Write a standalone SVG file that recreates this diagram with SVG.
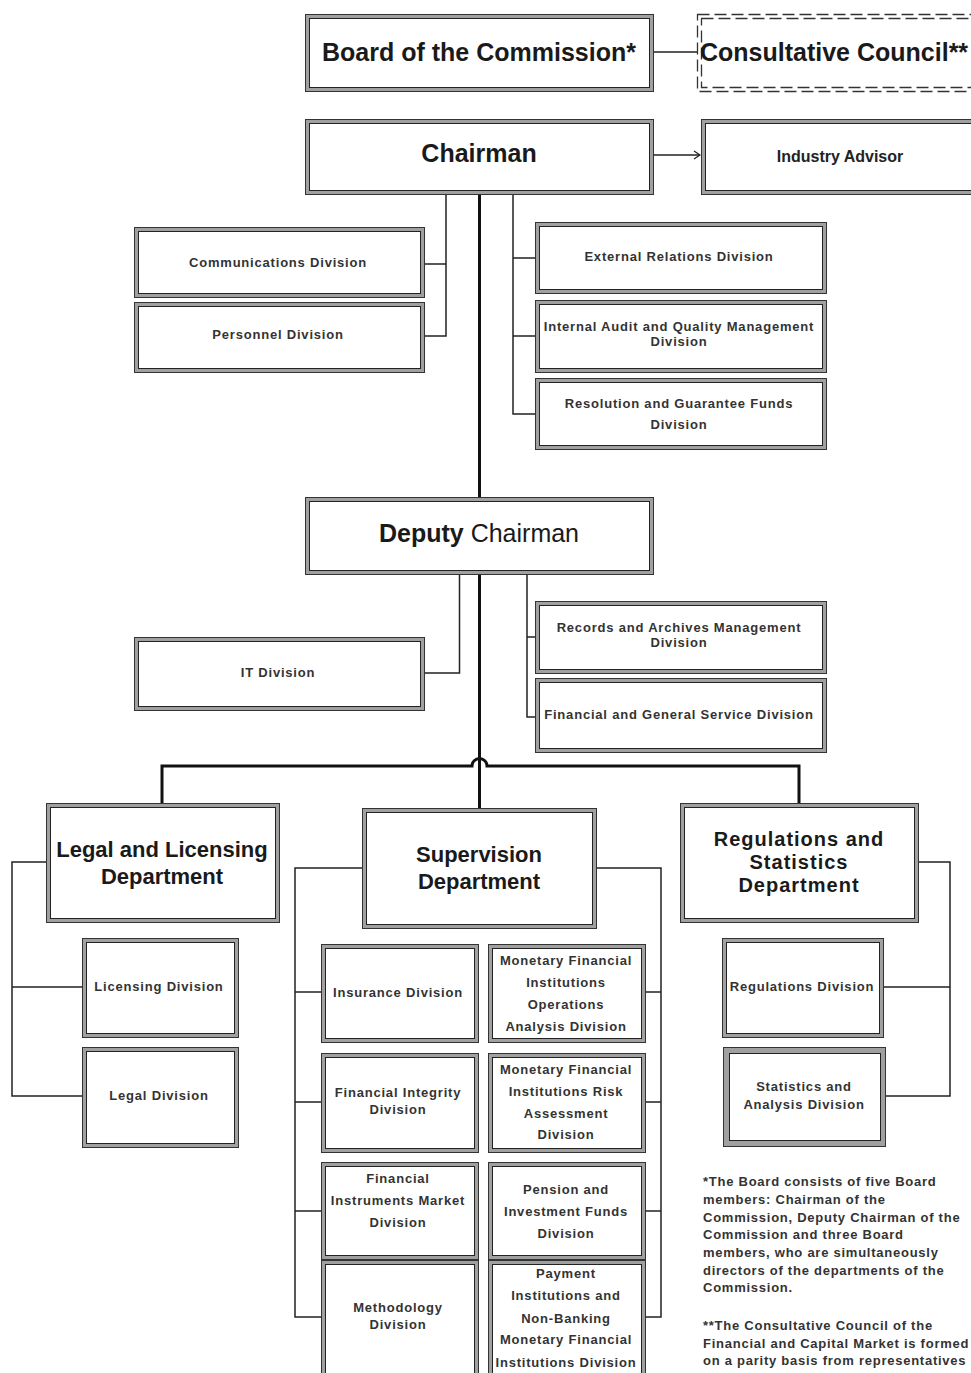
<svg xmlns="http://www.w3.org/2000/svg" width="971" height="1373" viewBox="0 0 971 1373">
<style>
.band{fill:#fff;stroke:#a0a0a0;stroke-width:4}
.ol{fill:none;stroke:#333;stroke-width:1}
.il{fill:none;stroke:#222;stroke-width:1}
.dash{fill:none;stroke:#333;stroke-width:1.3;stroke-dasharray:12 5}
.thin{fill:none;stroke:#222;stroke-width:1.5}
.thick{fill:none;stroke:#111;stroke-width:3}
text{font-family:"Liberation Sans",Arial,sans-serif;text-anchor:middle}
.big{font-size:25px;font-weight:bold;fill:#1a1a1a}
.dep{font-size:22px;font-weight:bold;fill:#1a1a1a}
.dep3{font-size:20px;font-weight:bold;fill:#1a1a1a;letter-spacing:1px}
.sm{font-size:13px;font-weight:bold;fill:#333;letter-spacing:0.8px}
.ia{font-size:16px;font-weight:bold;fill:#222}
.note{font-size:13px;font-weight:bold;fill:#333;letter-spacing:0.75px;text-anchor:start}
</style>
<defs>
<marker id="arr" markerWidth="8" markerHeight="10" refX="7" refY="5" orient="auto" markerUnits="userSpaceOnUse">
<path d="M1,1 L7,5 L1,9" fill="none" stroke="#222" stroke-width="1.3"/>
</marker>
</defs>
<rect width="971" height="1373" fill="#fff"/>

<g id="connectors">
<line class="thin" x1="654" y1="52" x2="697" y2="52"/>
<line class="thin" x1="654" y1="155" x2="700" y2="155" marker-end="url(#arr)"/>
<line class="thick" x1="479.5" y1="195" x2="479.5" y2="497"/>
<path class="thin" d="M446,195 V336 H425 M446,264 H425"/>
<path class="thin" d="M513,195 V414 H535 M513,258 H535 M513,336 H535"/>
<line class="thick" x1="479.5" y1="575" x2="479.5" y2="808"/>
<path class="thin" d="M459.5,575 V673 H425"/>
<path class="thin" d="M527,575 V717 H535 M527,637 H535"/>
<path class="thick" d="M162,803 V766 H472 A7,7 0 0 1 487,766 H799 V803"/>
<path class="thin" d="M46,862 H12 V1096 H82 M12,987 H82"/>
<path class="thin" d="M362,868 H295 V1317 H321 M295,992 H321 M295,1102 H321 M295,1211 H321"/>
<path class="thin" d="M596,868 H661 V1317 H645 M661,992 H645 M661,1102 H645 M661,1211 H645"/>
<path class="thin" d="M918,862 H950 V1096 H886 M950,987 H883"/>
</g>

<g id="board">
<rect class="band" x="307" y="16" width="345" height="74"/>
<rect class="ol" x="305.5" y="14.5" width="348" height="77"/>
<rect class="il" x="309.5" y="18.5" width="340" height="69"/>
<text class="big" x="479" y="61">Board of the Commission*</text>
</g>

<g id="council">
<rect class="dash" x="697.5" y="14.5" width="300" height="77"/>
<rect class="dash" x="701.5" y="18.5" width="300" height="69"/>
<text class="big" x="700" y="61" style="text-anchor:start">Consultative Council**</text>
</g>

<g id="chairman">
<rect class="band" x="307" y="121" width="345" height="72"/>
<rect class="ol" x="305.5" y="119.5" width="348" height="75"/>
<rect class="il" x="309.5" y="123.5" width="340" height="67"/>
<text class="big" x="479" y="162">Chairman</text>
</g>

<g id="industry-advisor">
<rect class="band" x="703" y="121" width="300" height="72"/>
<rect class="ol" x="701.5" y="119.5" width="300" height="75"/>
<rect class="il" x="705.5" y="123.5" width="300" height="67"/>
<text class="ia" x="840" y="162">Industry Advisor</text>
</g>

<g id="communications">
<rect class="band" x="136" y="229" width="287" height="67"/>
<rect class="ol" x="134.5" y="227.5" width="290" height="70"/>
<rect class="il" x="138.5" y="231.5" width="282" height="62"/>
<text class="sm" x="278" y="267">Communications Division</text>
</g>

<g id="personnel">
<rect class="band" x="136" y="304" width="287" height="67"/>
<rect class="ol" x="134.5" y="302.5" width="290" height="70"/>
<rect class="il" x="138.5" y="306.5" width="282" height="62"/>
<text class="sm" x="278" y="339">Personnel Division</text>
</g>

<g id="external-relations">
<rect class="band" x="537" y="224" width="288" height="68"/>
<rect class="ol" x="535.5" y="222.5" width="291" height="71"/>
<rect class="il" x="539.5" y="226.5" width="283" height="63"/>
<text class="sm" x="679" y="261">External Relations Division</text>
</g>

<g id="internal-audit">
<rect class="band" x="537" y="302" width="288" height="69"/>
<rect class="ol" x="535.5" y="300.5" width="291" height="72"/>
<rect class="il" x="539.5" y="304.5" width="283" height="64"/>
<text class="sm" x="679" y="331">Internal Audit and Quality Management</text>
<text class="sm" x="679" y="346">Division</text>
</g>

<g id="resolution">
<rect class="band" x="537" y="380" width="288" height="68"/>
<rect class="ol" x="535.5" y="378.5" width="291" height="71"/>
<rect class="il" x="539.5" y="382.5" width="283" height="63"/>
<text class="sm" x="679" y="408">Resolution and Guarantee Funds</text>
<text class="sm" x="679" y="429">Division</text>
</g>

<g id="deputy-chairman">
<rect class="band" x="307" y="499" width="345" height="74"/>
<rect class="ol" x="305.5" y="497.5" width="348" height="77"/>
<rect class="il" x="309.5" y="501.5" width="340" height="69"/>
<text class="big" x="479" y="542"><tspan>Deputy</tspan><tspan style="font-weight:normal"> Chairman</tspan></text>
</g>

<g id="it-division">
<rect class="band" x="136" y="639" width="287" height="70"/>
<rect class="ol" x="134.5" y="637.5" width="290" height="73"/>
<rect class="il" x="138.5" y="641.5" width="282" height="65"/>
<text class="sm" x="278" y="677">IT Division</text>
</g>

<g id="records">
<rect class="band" x="537" y="603" width="288" height="69"/>
<rect class="ol" x="535.5" y="601.5" width="291" height="72"/>
<rect class="il" x="539.5" y="605.5" width="283" height="64"/>
<text class="sm" x="679" y="632">Records and Archives Management</text>
<text class="sm" x="679" y="647">Division</text>
</g>

<g id="financial-general">
<rect class="band" x="537" y="680" width="288" height="71"/>
<rect class="ol" x="535.5" y="678.5" width="291" height="74"/>
<rect class="il" x="539.5" y="682.5" width="283" height="66"/>
<text class="sm" x="679" y="719">Financial and General Service Division</text>
</g>

<g id="legal-licensing-dept">
<rect class="band" x="48" y="805" width="230" height="116"/>
<rect class="ol" x="46.5" y="803.5" width="233" height="119"/>
<rect class="il" x="50.5" y="807.5" width="225" height="111"/>
<text class="dep" x="162" y="857">Legal and Licensing</text>
<text class="dep" x="162" y="884">Department</text>
</g>

<g id="supervision-dept">
<rect class="band" x="364" y="810" width="231" height="117"/>
<rect class="ol" x="362.5" y="808.5" width="234" height="120"/>
<rect class="il" x="366.5" y="812.5" width="226" height="112"/>
<text class="dep" x="479" y="862">Supervision</text>
<text class="dep" x="479" y="889">Department</text>
</g>

<g id="regulations-statistics-dept">
<rect class="band" x="682" y="805" width="235" height="116"/>
<rect class="ol" x="680.5" y="803.5" width="238" height="119"/>
<rect class="il" x="684.5" y="807.5" width="230" height="111"/>
<text class="dep3" x="799" y="846">Regulations and</text>
<text class="dep3" x="799" y="869">Statistics</text>
<text class="dep3" x="799" y="892">Department</text>
</g>

<g id="licensing-division">
<rect class="band" x="84" y="940" width="153" height="96"/>
<rect class="ol" x="82.5" y="938.5" width="156" height="99"/>
<rect class="il" x="86.5" y="942.5" width="148" height="91"/>
<text class="sm" x="159" y="991">Licensing Division</text>
</g>

<g id="legal-division">
<rect class="band" x="84" y="1049" width="153" height="97"/>
<rect class="ol" x="82.5" y="1047.5" width="156" height="100"/>
<rect class="il" x="86.5" y="1051.5" width="148" height="92"/>
<text class="sm" x="159" y="1100">Legal Division</text>
</g>

<g id="insurance">
<rect class="band" x="323" y="946" width="154" height="95"/>
<rect class="ol" x="321.5" y="944.5" width="157" height="98"/>
<rect class="il" x="325.5" y="948.5" width="149" height="90"/>
<text class="sm" x="398" y="997">Insurance Division</text>
</g>

<g id="financial-integrity">
<rect class="band" x="323" y="1055" width="154" height="96"/>
<rect class="ol" x="321.5" y="1053.5" width="157" height="99"/>
<rect class="il" x="325.5" y="1057.5" width="149" height="91"/>
<text class="sm" x="398" y="1097">Financial Integrity</text>
<text class="sm" x="398" y="1114">Division</text>
</g>

<g id="financial-instruments">
<rect class="band" x="323" y="1164" width="154" height="94"/>
<rect class="ol" x="321.5" y="1162.5" width="157" height="97"/>
<rect class="il" x="325.5" y="1166.5" width="149" height="89"/>
<text class="sm" x="398" y="1183">Financial</text>
<text class="sm" x="398" y="1205">Instruments Market</text>
<text class="sm" x="398" y="1227">Division</text>
</g>

<g id="methodology">
<rect class="band" x="323" y="1262" width="154" height="130"/>
<rect class="ol" x="321.5" y="1260.5" width="157" height="133"/>
<rect class="il" x="325.5" y="1264.5" width="149" height="125"/>
<text class="sm" x="398" y="1312">Methodology</text>
<text class="sm" x="398" y="1329">Division</text>
</g>

<g id="mfi-operations">
<rect class="band" x="490" y="946" width="154" height="95"/>
<rect class="ol" x="488.5" y="944.5" width="157" height="98"/>
<rect class="il" x="492.5" y="948.5" width="149" height="90"/>
<text class="sm" x="566" y="965">Monetary Financial</text>
<text class="sm" x="566" y="987">Institutions</text>
<text class="sm" x="566" y="1009">Operations</text>
<text class="sm" x="566" y="1031">Analysis Division</text>
</g>

<g id="mfi-risk">
<rect class="band" x="490" y="1055" width="154" height="96"/>
<rect class="ol" x="488.5" y="1053.5" width="157" height="99"/>
<rect class="il" x="492.5" y="1057.5" width="149" height="91"/>
<text class="sm" x="566" y="1074">Monetary Financial</text>
<text class="sm" x="566" y="1096">Institutions Risk</text>
<text class="sm" x="566" y="1118">Assessment</text>
<text class="sm" x="566" y="1139">Division</text>
</g>

<g id="pension">
<rect class="band" x="490" y="1164" width="154" height="94"/>
<rect class="ol" x="488.5" y="1162.5" width="157" height="97"/>
<rect class="il" x="492.5" y="1166.5" width="149" height="89"/>
<text class="sm" x="566" y="1194">Pension and</text>
<text class="sm" x="566" y="1216">Investment Funds</text>
<text class="sm" x="566" y="1238">Division</text>
</g>

<g id="payment">
<rect class="band" x="490" y="1262" width="154" height="130"/>
<rect class="ol" x="488.5" y="1260.5" width="157" height="133"/>
<rect class="il" x="492.5" y="1264.5" width="149" height="125"/>
<text class="sm" x="566" y="1278">Payment</text>
<text class="sm" x="566" y="1300">Institutions and</text>
<text class="sm" x="566" y="1323">Non-Banking</text>
<text class="sm" x="566" y="1344">Monetary Financial</text>
<text class="sm" x="566" y="1367">Institutions Division</text>
</g>

<g id="regulations-division">
<rect class="band" x="724" y="940" width="158" height="96"/>
<rect class="ol" x="722.5" y="938.5" width="161" height="99"/>
<rect class="il" x="726.5" y="942.5" width="153" height="91"/>
<text class="sm" x="802" y="991">Regulations Division</text>
</g>

<g id="statistics-division">
<rect class="band" x="726" y="1050" width="157" height="94" style="stroke-width:6"/>
<rect class="ol" x="723.5" y="1047.5" width="162" height="99"/>
<rect class="il" x="729.5" y="1053.5" width="151" height="87"/>
<text class="sm" x="804" y="1091">Statistics and</text>
<text class="sm" x="804" y="1109">Analysis Division</text>
</g>

<g id="notes">
<text class="note" x="703" y="1186">*The Board consists of five Board</text>
<text class="note" x="703" y="1204">members: Chairman of the</text>
<text class="note" x="703" y="1222">Commission, Deputy Chairman of the</text>
<text class="note" x="703" y="1239">Commission and three Board</text>
<text class="note" x="703" y="1257">members, who are simultaneously</text>
<text class="note" x="703" y="1275">directors of the departments of the</text>
<text class="note" x="703" y="1292">Commission.</text>
<text class="note" x="703" y="1330">**The Consultative Council of the</text>
<text class="note" x="703" y="1348">Financial and Capital Market is formed</text>
<text class="note" x="703" y="1365">on a parity basis from representatives</text>
</g>
</svg>
